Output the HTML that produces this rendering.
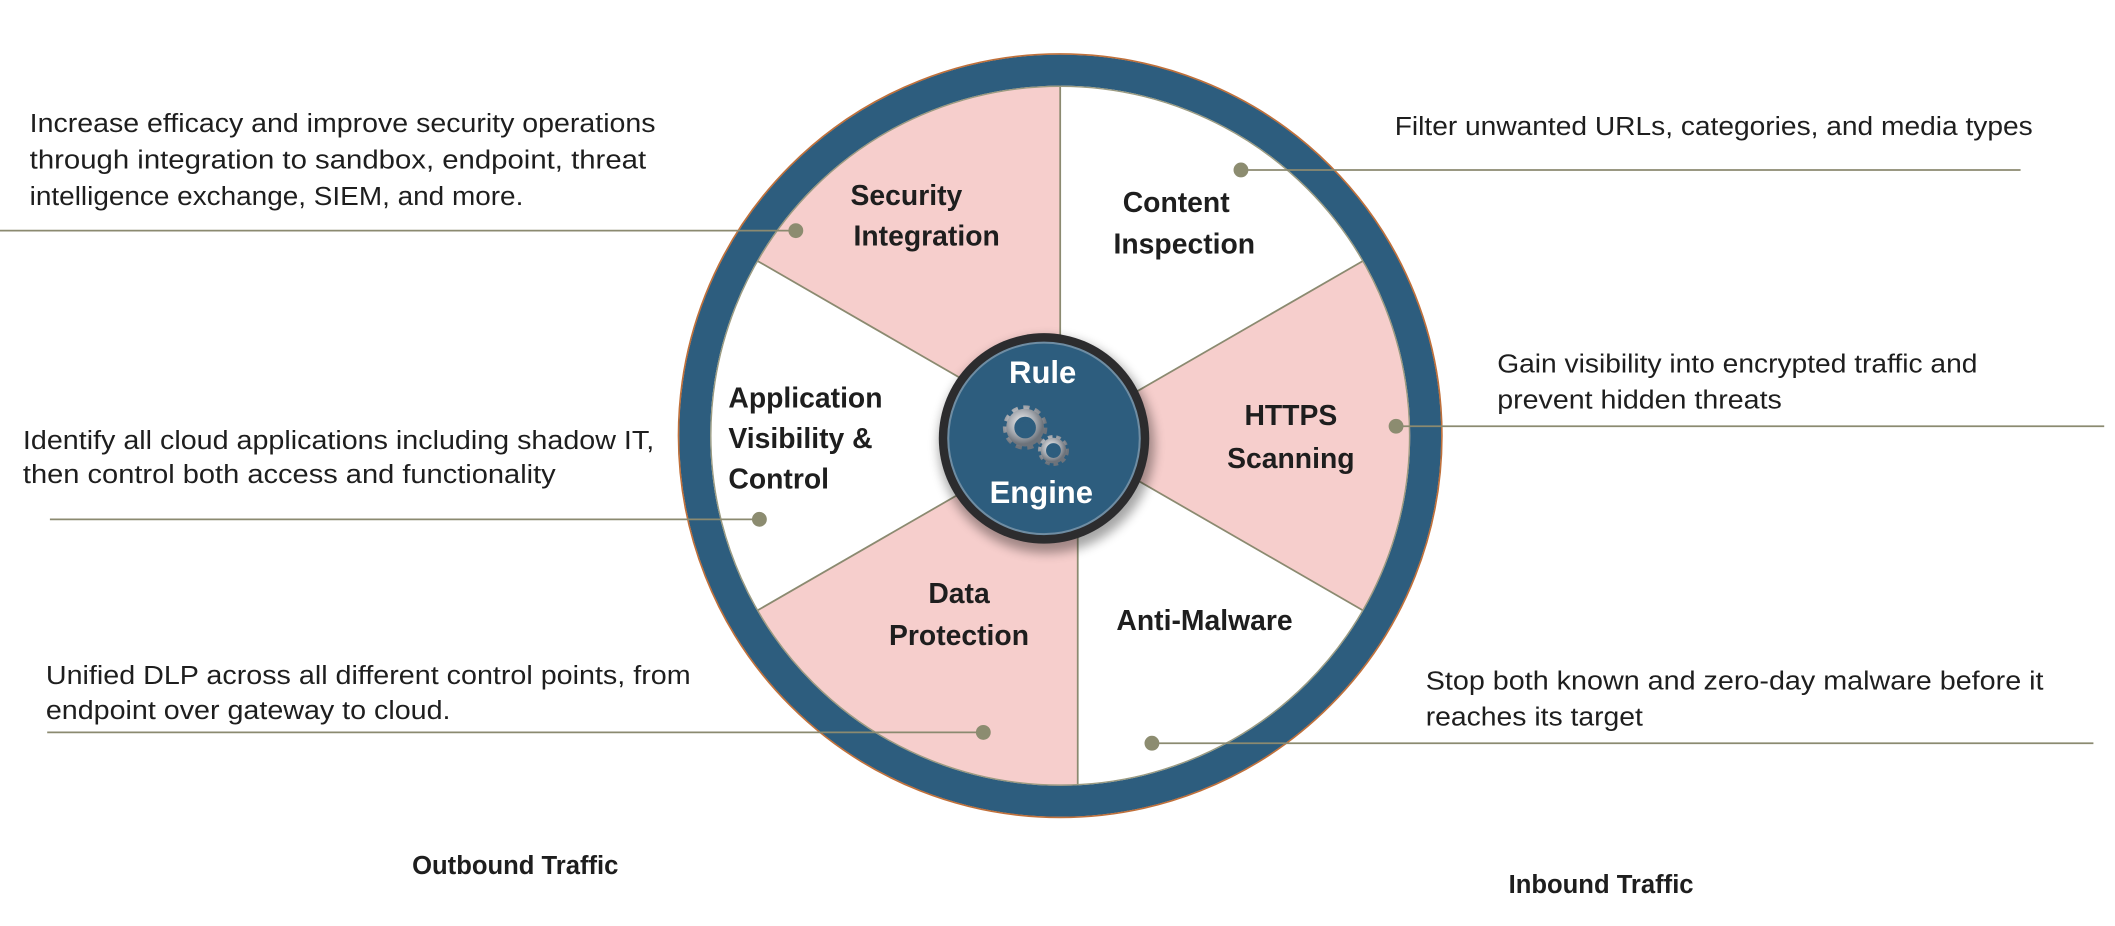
<!DOCTYPE html>
<html><head><meta charset="utf-8"><style>
html,body{margin:0;padding:0;background:#fff;}
svg{display:block;}
.d{font-family:"Liberation Sans",sans-serif;font-size:19px;fill:#1e1e1e;}
.b{font-family:"Liberation Sans",sans-serif;font-size:21px;font-weight:bold;fill:#1e1e1e;}
</style></head><body>
<svg width="2115" height="926" viewBox="0 0 1568 686.5" xmlns="http://www.w3.org/2000/svg">
<defs>
<radialGradient id="g1" cx="40%" cy="35%" r="70%"><stop offset="0" stop-color="#f4f4f4"/><stop offset="0.6" stop-color="#a9adb3"/><stop offset="1" stop-color="#6d737b"/></radialGradient>
<filter id="sh" x="-30%" y="-30%" width="160%" height="160%"><feGaussianBlur stdDeviation="4"/></filter>
</defs>
<circle cx="786" cy="323" r="262" fill="#fff"/>
<path d="M786 323 L786 63 A260 260 0 0 0 560.8 193 Z" fill="#f6cecc"/>
<path d="M786 323 L560.8 453 A260 260 0 0 0 792 583 L799 583 L799 323 Z" fill="#f6cecc"/>
<path d="M786 323 L1011.2 453 A260 260 0 0 0 1011.2 193 Z" fill="#f6cecc"/>
<g stroke="#8b8a70" stroke-width="1.3">
<line x1="786" y1="63" x2="786" y2="323"/>
<line x1="1011.2" y1="193" x2="786" y2="323"/>
<line x1="1011.2" y1="453" x2="786" y2="323"/>
<line x1="799" y1="583" x2="799" y2="323"/>
<line x1="560.8" y1="193" x2="786" y2="323"/>
<line x1="560.8" y1="453" x2="786" y2="323"/>
</g>
<circle cx="786" cy="323" r="271" fill="none" stroke="#2d5d7e" stroke-width="23"/>
<circle cx="786" cy="323" r="283" fill="none" stroke="#c0703a" stroke-width="1.2"/>
<circle cx="786" cy="323" r="259" fill="none" stroke="#9a9a80" stroke-width="1"/>
<circle cx="776" cy="330" r="80" fill="#000" opacity="0.35" filter="url(#sh)"/>
<circle cx="774" cy="325" r="78" fill="#2c2c2e"/>
<circle cx="774" cy="325" r="71" fill="#2d5d7e" stroke="#6f8da3" stroke-width="1.5"/>
<text x="773" y="284" text-anchor="middle" font-family="Liberation Sans,sans-serif" font-weight="bold" font-size="23" fill="#fff">Rule</text>
<text x="772" y="373" text-anchor="middle" font-family="Liberation Sans,sans-serif" font-weight="bold" font-size="23" fill="#fff">Engine</text>
<g>
<circle cx="760" cy="317" r="13" fill="none" stroke="url(#g1)" stroke-width="7" stroke-dasharray="4 3.5"/>
<circle cx="760" cy="317" r="11" fill="none" stroke="url(#g1)" stroke-width="6"/>
<circle cx="760" cy="317" r="5" fill="#2d5d7e"/>
<circle cx="781" cy="334" r="9" fill="none" stroke="url(#g1)" stroke-width="5" stroke-dasharray="3 2.5"/>
<circle cx="781" cy="334" r="7.5" fill="none" stroke="url(#g1)" stroke-width="4"/>
<circle cx="781" cy="334" r="3.5" fill="#2d5d7e"/>
</g>
<text class="b" x="672" y="152" text-anchor="middle">Security</text>
<text class="b" x="687" y="182" text-anchor="middle">Integration</text>
<text class="b" x="872" y="157" text-anchor="middle">Content</text>
<text class="b" x="878" y="188" text-anchor="middle">Inspection</text>
<text class="b" x="540" y="302">Application</text>
<text class="b" x="540" y="332">Visibility &amp;</text>
<text class="b" x="540" y="362">Control</text>
<text class="b" x="957" y="315" text-anchor="middle">HTTPS</text>
<text class="b" x="957" y="347" text-anchor="middle">Scanning</text>
<text class="b" x="711" y="447" text-anchor="middle">Data</text>
<text class="b" x="711" y="478" text-anchor="middle">Protection</text>
<text class="b" x="893" y="467" text-anchor="middle">Anti-Malware</text>
<g stroke="#8b8a70" stroke-width="1.3">
<line x1="0" y1="171" x2="590" y2="171"/>
<line x1="37" y1="385" x2="563" y2="385"/>
<line x1="35" y1="543" x2="729" y2="543"/>
<line x1="920" y1="126" x2="1498" y2="126"/>
<line x1="1035" y1="316" x2="1560" y2="316"/>
<line x1="854" y1="551" x2="1552" y2="551"/>
</g>
<g fill="#8c8c70">
<circle cx="590" cy="171" r="5.5"/>
<circle cx="563" cy="385" r="5.5"/>
<circle cx="729" cy="543" r="5.5"/>
<circle cx="920" cy="126" r="5.5"/>
<circle cx="1035" cy="316" r="5.5"/>
<circle cx="854" cy="551" r="5.5"/>
</g>
<text class="d" x="22" y="98" textLength="464" lengthAdjust="spacingAndGlyphs">Increase efficacy and improve security operations</text>
<text class="d" x="22" y="125" textLength="457" lengthAdjust="spacingAndGlyphs">through integration to sandbox, endpoint, threat</text>
<text class="d" x="22" y="152" textLength="366" lengthAdjust="spacingAndGlyphs">intelligence exchange, SIEM, and more.</text>
<text class="d" x="17" y="333" textLength="468" lengthAdjust="spacingAndGlyphs">Identify all cloud applications including shadow IT,</text>
<text class="d" x="17" y="358" textLength="395" lengthAdjust="spacingAndGlyphs">then control both access and functionality</text>
<text class="d" x="34" y="507" textLength="478" lengthAdjust="spacingAndGlyphs">Unified DLP across all different control points, from</text>
<text class="d" x="34" y="533" textLength="300" lengthAdjust="spacingAndGlyphs">endpoint over gateway to cloud.</text>
<text class="d" x="1034" y="100" textLength="473" lengthAdjust="spacingAndGlyphs">Filter unwanted URLs, categories, and media types</text>
<text class="d" x="1110" y="276" textLength="356" lengthAdjust="spacingAndGlyphs">Gain visibility into encrypted traffic and</text>
<text class="d" x="1110" y="303" textLength="211" lengthAdjust="spacingAndGlyphs">prevent hidden threats</text>
<text class="d" x="1057" y="511" textLength="458" lengthAdjust="spacingAndGlyphs">Stop both known and zero-day malware before it</text>
<text class="d" x="1057" y="538" textLength="161" lengthAdjust="spacingAndGlyphs">reaches its target</text>
<text class="b" x="382" y="648" text-anchor="middle" style="font-size:19px">Outbound Traffic</text>
<text class="b" x="1187" y="662" text-anchor="middle" style="font-size:19px">Inbound Traffic</text>
</svg>
</body></html>
